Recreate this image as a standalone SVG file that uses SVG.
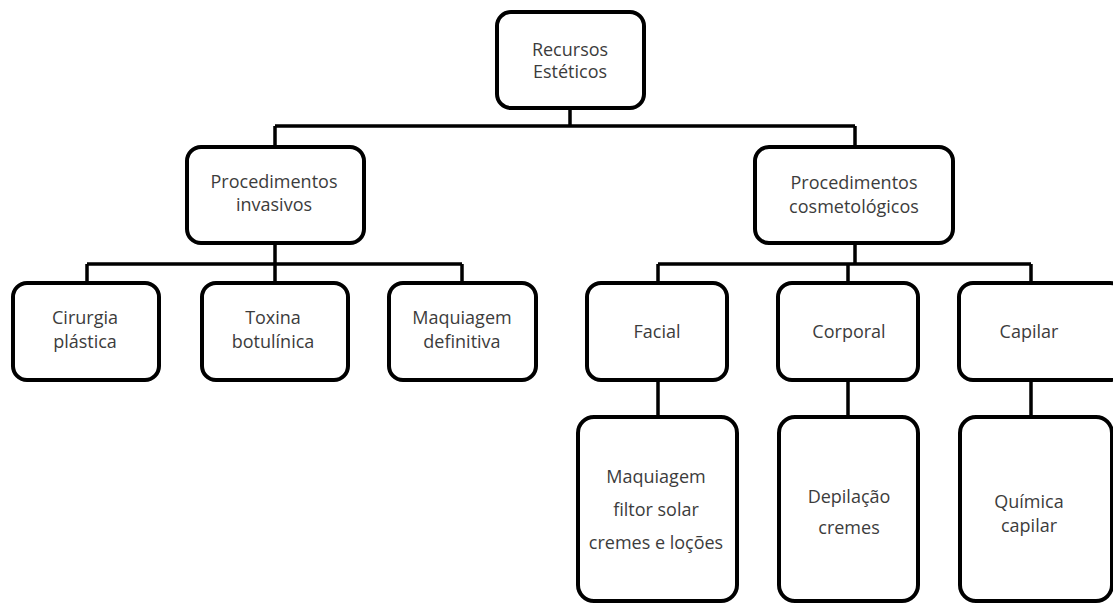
<svg xmlns="http://www.w3.org/2000/svg" width="1113" height="605" viewBox="0 0 1113 605">
<style>
.box{fill:#fff;stroke:#000;stroke-width:4}
.t{font-family:"Open Sans","Liberation Sans",sans-serif;font-size:18px;fill:#3c3c3c;text-anchor:middle}
.c{stroke:#000;stroke-width:3.5;fill:none}
</style>
<rect width="1113" height="605" fill="#fff"/>
<g id="connectors">
<path class="c" d="M570,108V126M275,126H855M275,126V147M855,126V147"/>
<path class="c" d="M275,243V264M87,264H462M87,264V283M275,264V283M462,264V283"/>
<path class="c" d="M855,243V264M658,264H1031M658,264V283M848,264V283M1031,264V283"/>
<path class="c" d="M658,380V417M848,380V417M1031,380V417"/>
</g>
<g id="root"><rect class="box" x="497" y="12" width="147" height="96" rx="14"/>
<text class="t" x="570" y="56">Recursos</text><text class="t" x="570" y="78">Estéticos</text></g>
<g id="invasivos"><rect class="box" x="187" y="147" width="177" height="96" rx="14"/>
<text class="t" x="274" y="188">Procedimentos</text><text class="t" x="274" y="211">invasivos</text></g>
<g id="cosmetologicos"><rect class="box" x="755" y="147" width="198" height="96" rx="14"/>
<text class="t" x="854" y="189">Procedimentos</text><text class="t" x="854" y="213">cosmetológicos</text></g>
<g id="cirurgia"><rect class="box" x="13" y="283" width="146" height="97" rx="14"/>
<text class="t" x="85" y="324">Cirurgia</text><text class="t" x="85" y="348">plástica</text></g>
<g id="toxina"><rect class="box" x="202" y="283" width="146" height="97" rx="14"/>
<text class="t" x="273" y="324">Toxina</text><text class="t" x="273" y="348">botulínica</text></g>
<g id="maquiagem-def"><rect class="box" x="389" y="283" width="147" height="97" rx="14"/>
<text class="t" x="462" y="324">Maquiagem</text><text class="t" x="462" y="348">definitiva</text></g>
<g id="facial"><rect class="box" x="587" y="283" width="140" height="97" rx="14"/>
<text class="t" x="657" y="338">Facial</text></g>
<g id="corporal"><rect class="box" x="778" y="283" width="140" height="97" rx="14"/>
<text class="t" x="849" y="338">Corporal</text></g>
<g id="capilar"><rect class="box" x="959" y="283" width="165" height="97" rx="14"/>
<text class="t" x="1029" y="338">Capilar</text></g>
<g id="facial-itens"><rect class="box" x="578" y="417" width="159" height="184" rx="16"/>
<text class="t" x="656" y="483">Maquiagem</text><text class="t" x="656" y="516">filtor solar</text><text class="t" x="656" y="549">cremes e loções</text></g>
<g id="corporal-itens"><rect class="box" x="779" y="417" width="139" height="184" rx="16"/>
<text class="t" x="849" y="503">Depilação</text><text class="t" x="849" y="534">cremes</text></g>
<g id="capilar-itens"><rect class="box" x="960" y="417" width="152" height="184" rx="16"/>
<text class="t" x="1029" y="508">Química</text><text class="t" x="1029" y="532">capilar</text></g>
</svg>
